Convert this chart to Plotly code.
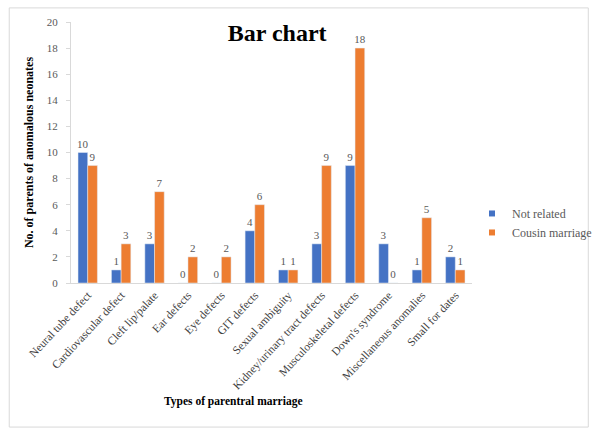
import plotly.graph_objects as go

categories = ["Neural tube defect", "Cardiovascular defect", "Cleft lip/palate",
              "Ear defects", "Eye defects", "GIT defects", "Sexual ambiguity",
              "Kidney/urinary tract defects", "Musculoskeletal defects",
              "Down's syndrome", "Miscellaneous anomalies", "Small for dates"]
not_related = [10, 1, 3, 0, 0, 4, 1, 3, 9, 3, 1, 2]
cousin_marriage = [9, 3, 7, 2, 2, 6, 1, 9, 18, 0, 5, 1]
y_ticks = [0, 2, 4, 6, 8, 10, 12, 14, 16, 18, 20]

BLUE = "#4472C4"
ORANGE = "#ED7D31"
SERIF = "Liberation Serif"
GREY = "#595959"

fig = go.Figure()
for name, vals, col in [("Not related", not_related, BLUE),
                        ("Cousin marriage", cousin_marriage, ORANGE)]:
    fig.add_trace(go.Bar(
        x=categories, y=vals, name=name, marker_color=col,
        text=vals, textposition="outside", cliponaxis=False,
        constraintext="none",
        textfont=dict(family=SERIF, size=11, color=GREY),
        showlegend=False,
    ))
    # square legend swatch
    fig.add_trace(go.Scatter(
        x=[None], y=[None], mode="markers", name=name,
        marker=dict(symbol="square", size=6, color=col),
    ))

fig.update_layout(
    width=609, height=434,
    margin=dict(l=71, r=122, t=22, b=151),
    paper_bgcolor="white", plot_bgcolor="white",
    barmode="group", bargap=0.42, bargroupgap=0,
    font=dict(family=SERIF, color=GREY, size=11),
    title=dict(text="<b>Bar chart</b>", x=0.455, xanchor="center",
               y=0.925, yanchor="middle",
               font=dict(family=SERIF, size=24, color="black")),
    legend=dict(x=1.0, y=0.23, xanchor="left", yanchor="middle",
                font=dict(family=SERIF, size=12, color=GREY),
                itemwidth=30, tracegroupgap=6, bgcolor="rgba(0,0,0,0)"),
    shapes=[dict(type="rect", xref="paper", yref="paper",
                 x0=-0.154, x1=1.29, y0=-0.552, y1=1.054,
                 line=dict(color="#D9D9D9", width=1), layer="below")],
    annotations=[dict(text="<b>Types of parentral marriage</b>",
                      xref="paper", yref="paper", x=0.404, y=-0.487,
                      showarrow=False,
                      font=dict(family=SERIF, size=11.5, color="black"))],
)
fig.update_xaxes(tickangle=-47, showline=True, linecolor="#D9D9D9",
                 ticks="", tickfont=dict(family=SERIF, size=11.5, color="#404040"))
fig.update_yaxes(range=[0, 20], tickvals=y_ticks, showgrid=False,
                 showline=True, linecolor="#D9D9D9", ticks="outside",
                 ticklen=4, tickcolor="#D9D9D9", zeroline=False,
                 ticklabelstandoff=6,
                 tickfont=dict(family=SERIF, size=11, color=GREY),
                 title=dict(text="<b>No. of parents of anomalous neonates</b>",
                            font=dict(family=SERIF, size=12, color="black"),
                            standoff=10))

fig.write_html("out.html")
